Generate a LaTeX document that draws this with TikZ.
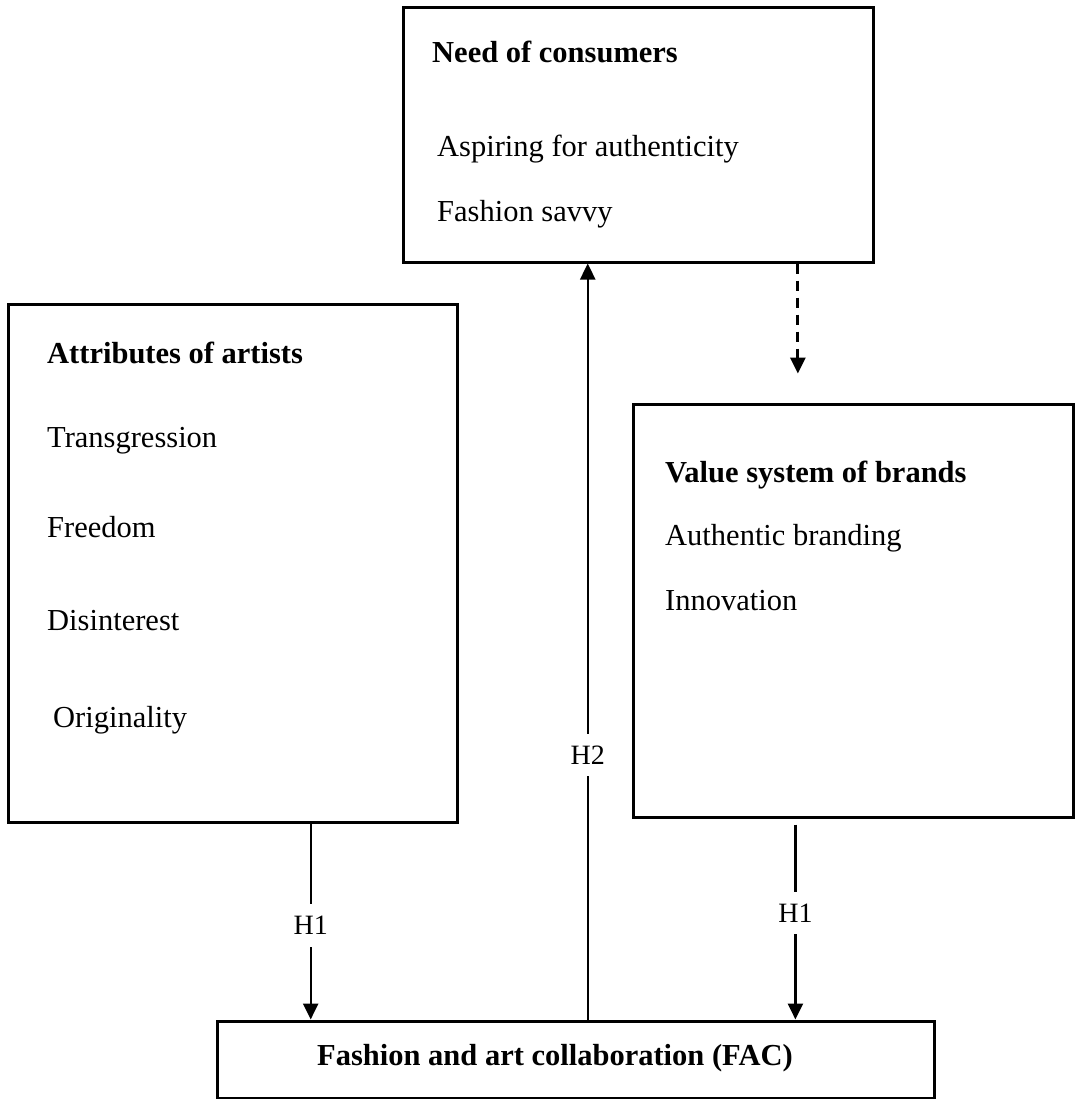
\documentclass[tikz,border=0pt]{standalone}
\usepackage{fontspec}
\setmainfont{Liberation Serif}
\usetikzlibrary{arrows.meta, calc, positioning}

\begin{document}
\begin{tikzpicture}[x=1pt, y=-1pt,
        every node/.style={font=\fontsize{30.5}{36}\selectfont},
        box/.style={draw, line width=3pt, inner sep=0pt},
        item/.style={anchor=base west, inner sep=0pt},
        head/.style={item, font=\fontsize{30.5}{36}\selectfont\bfseries},
        arrow/.style={-{Triangle[length=16pt, width=15pt]}, line width=2.4pt},
        hlabel/.style={fill=white, inner xsep=2pt, inner ysep=12pt, font=\fontsize{28}{32}\selectfont}
    ]
    \useasboundingbox (0,0) rectangle (1077,1099);

    % Boxes
    \node[box, minimum width=470pt, minimum height=254pt] (need) at (638,135) {};
    \node[box, minimum width=449pt, minimum height=518pt] (artists) at (232.5,563) {};
    \node[box, minimum width=440pt, minimum height=413pt] (brands) at (853,610.5) {};
    \node[box, minimum width=717pt, minimum height=77pt] (fac) at (575.5,1059.5) {};

    % Texts
    \node[head] (needhead) at (432,63) {Need of consumers};
    \node[item] (needa) at (437,157) {Aspiring for authenticity};
    \node[item] (needb) at (437,222) {Fashion savvy};

    \node[head] (arthead) at (47,363) {Attributes of artists};
    \node[item] (arta) at (47,447) {Transgression};
    \node[item] (artb) at (47,537) {Freedom};
    \node[item] (artc) at (47,630) {Disinterest};
    \node[item] (artd) at (53,727) {Originality};

    \node[head] (brandhead) at (665,482) {Value system of brands};
    \node[item] (branda) at (665,545) {Authentic branding};
    \node[item] (brandb) at (665,610) {Innovation};

    \node[head] (factext) at (317,1065) {Fashion and art collaboration (FAC)};

    % Arrows
    \coordinate (h1l) at ($(artists.south west)!.673!(artists.south east)$);
    \coordinate (h1r) at ($(brands.south west)!.370!(brands.south east)$);
    \coordinate (h2b) at ($(fac.north west)!.517!(fac.north east)$);
    \coordinate (dtop) at ($(need.south west)!.838!(need.south east)$);
    \coordinate (dend) at ($(dtop)+(0,110)$);

    \draw[arrow] (h1l) -- (h1l |- fac.north) node[hlabel, pos=.52] (h1a) {H1};
    \draw[arrow, shorten <=6pt] (h1r) -- (h1r |- fac.north) node[hlabel, pos=.47] (h1b) {H1};
    \draw[arrow] (h2b) -- (h2b |- need.south) node[hlabel, pos=.35] (h2) {H2};
    \draw[arrow, line width=2.8pt, dash pattern=on 10pt off 7pt] (dtop) -- (dend);

\end{tikzpicture}
\end{document}
